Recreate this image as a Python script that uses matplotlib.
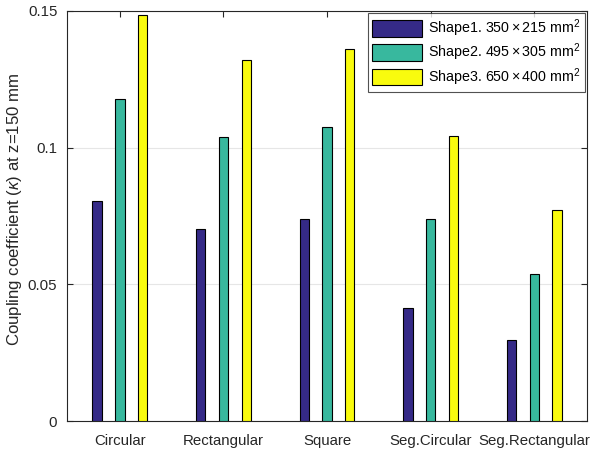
import matplotlib
matplotlib.use("Agg")
import matplotlib.pyplot as plt
import numpy as np

plt.rcParams['font.family'] = ['Liberation Sans', 'DejaVu Sans']
plt.rcParams['mathtext.fontset'] = 'custom'
plt.rcParams['mathtext.rm'] = 'Liberation Sans'
plt.rcParams['mathtext.it'] = 'Liberation Sans:italic'

categories = ["Circular", "Rectangular", "Square", "Seg.Circular", "Seg.Rectangular"]
series_names = [r"Shape1. $350\times215$ mm$^2$",
                r"Shape2. $495\times305$ mm$^2$",
                r"Shape3. $650\times400$ mm$^2$"]
shape1 = [0.0806, 0.0703, 0.0740, 0.0414, 0.0297]
shape2 = [0.1178, 0.1038, 0.1076, 0.0740, 0.0537]
shape3 = [0.1487, 0.1320, 0.1360, 0.1044, 0.0773]
yticks = [0, 0.05, 0.1, 0.15]
ytick_labels = ["0", "0.05", "0.1", "0.15"]

colors = ["#352a87", "#38b89e", "#f9fb0e"]

fig = plt.figure(figsize=(5.93, 4.5), dpi=100)
ax = fig.add_axes([0.113, 0.0644, 0.877, 0.9112])

x = np.arange(1, len(categories) + 1)
offsets = [-0.22, 0.0, 0.22]
width = 0.09
for vals, off, c, name in zip([shape1, shape2, shape3], offsets, colors, series_names):
    ax.bar(x + off, vals, width=width, color=c, edgecolor="black", linewidth=0.8,
           label=name, zorder=3)

ax.set_xlim(0.49, 5.51)
ax.set_ylim(0, 0.15)
ax.set_xticks(x)
ax.set_xticklabels(categories, fontsize=10.8)
ax.set_yticks(yticks)
ax.set_yticklabels(ytick_labels, fontsize=10.8)
ax.yaxis.grid(True, color="#e6e6e6", linewidth=0.8, zorder=0)
ax.set_axisbelow(True)
ax.tick_params(direction="in", top=True, right=True, length=4, color="#262626",
               labelcolor="#262626")
ax.tick_params(axis="x", pad=9)
ax.tick_params(axis="y", pad=7)
for s in ax.spines.values():
    s.set_color("#262626")
    s.set_linewidth(0.8)
ax.set_ylabel(r"Coupling coefficient ($\kappa$) at z=150 mm", fontsize=12.1,
              color="#262626")
ax.yaxis.set_label_coords(-0.083, 0.515)

leg = ax.legend(loc="upper right", fontsize=10.3, handlelength=3.5, handleheight=1.4,
                frameon=True, fancybox=False, edgecolor="#262626", borderpad=0.3,
                labelspacing=0.2, handletextpad=0.4, borderaxespad=0.15)
leg.get_frame().set_linewidth(0.8)

fig.savefig("out.png", dpi=100)
